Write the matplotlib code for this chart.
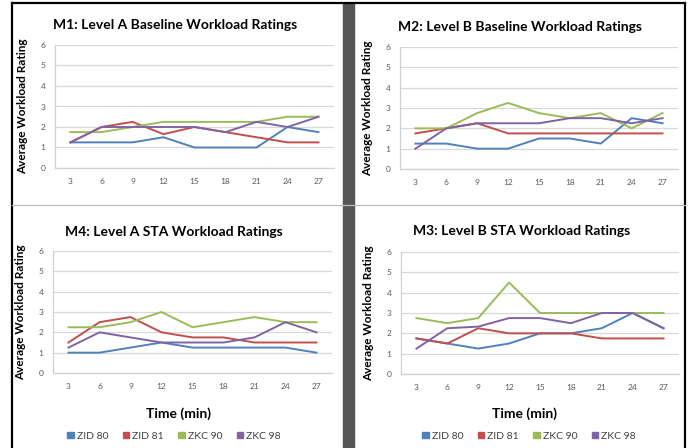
import matplotlib
matplotlib.use("Agg")
import matplotlib.pyplot as plt
from matplotlib.lines import Line2D
from matplotlib.patches import Rectangle, Patch

times = ["3", "6", "9", "12", "15", "18", "21", "24", "27"]
series_names = ["ZID 80", "ZID 81", "ZKC 90", "ZKC 98"]
colors = ["#4F81BD", "#C0504D", "#9BBB59", "#8064A2"]

# M1: Level A Baseline
m1_zid80 = [1.25, 1.25, 1.25, 1.5, 1.0, 1.0, 1.0, 2.0, 1.75]
m1_zid81 = [1.25, 2.0, 2.25, 1.65, 2.0, 1.75, 1.5, 1.25, 1.25]
m1_zkc90 = [1.75, 1.75, 2.0, 2.25, 2.25, 2.25, 2.25, 2.5, 2.5]
m1_zkc98 = [1.25, 2.0, 2.0, 2.0, 2.0, 1.75, 2.25, 2.0, 2.5]

# M2: Level B Baseline
m2_zid80 = [1.25, 1.25, 1.0, 1.0, 1.5, 1.5, 1.25, 2.5, 2.25]
m2_zid81 = [1.75, 2.0, 2.25, 1.75, 1.75, 1.75, 1.75, 1.75, 1.75]
m2_zkc90 = [2.0, 2.0, 2.75, 3.25, 2.75, 2.5, 2.75, 2.0, 2.75]
m2_zkc98 = [1.0, 2.0, 2.25, 2.25, 2.25, 2.5, 2.5, 2.25, 2.5]

# M4: Level A STA
m4_zid80 = [1.0, 1.0, 1.25, 1.5, 1.25, 1.25, 1.25, 1.25, 1.0]
m4_zid81 = [1.5, 2.5, 2.75, 2.0, 1.75, 1.75, 1.5, 1.5, 1.5]
m4_zkc90 = [2.25, 2.25, 2.5, 3.0, 2.25, 2.5, 2.75, 2.5, 2.5]
m4_zkc98 = [1.25, 2.0, 1.75, 1.5, 1.5, 1.5, 1.75, 2.5, 2.0]

# M3: Level B STA
m3_zid80 = [1.75, 1.5, 1.25, 1.5, 2.0, 2.0, 2.25, 3.0, 2.25]
m3_zid81 = [1.75, 1.5, 2.25, 2.0, 2.0, 2.0, 1.75, 1.75, 1.75]
m3_zkc90 = [2.75, 2.5, 2.75, 4.5, 3.0, 3.0, 3.0, 3.0, 3.0]
m3_zkc98 = [1.25, 2.25, 2.33, 2.75, 2.75, 2.5, 3.0, 3.0, 2.25]

W, H = 691, 448
fig = plt.figure(figsize=(W / 100, H / 100), dpi=100)
fig.patch.set_facecolor("white")

FONT = ["Lato", "DejaVu Sans"]
TICK_C = "#595959"


def px_rect(x0, y0, x1, y1):
    return [x0 / W, 1 - y1 / H, (x1 - x0) / W, (y1 - y0) / H]


panels = [
    ("M1: Level A Baseline Workload Ratings", (55, 45, 334, 168), (175, 25),
     [m1_zid80, m1_zid81, m1_zkc90, m1_zkc98], None),
    ("M2: Level B Baseline Workload Ratings", (400, 47, 678, 169), (520, 27),
     [m2_zid80, m2_zid81, m2_zkc90, m2_zkc98], None),
    ("M4: Level A STA Workload Ratings", (53, 251, 332, 373), (174, 232),
     [m4_zid80, m4_zid81, m4_zkc90, m4_zkc98], (178, 174)),
    ("M3: Level B STA Workload Ratings", (401, 252, 679, 374), (522, 231),
     [m3_zid80, m3_zid81, m3_zkc90, m3_zkc98], (524, 529)),
]

for title, (x0, y0, x1, y1), (tx, ty), data, bottom in panels:
    ax = fig.add_axes(px_rect(x0, y0, x1, y1))
    xs = list(range(len(times)))
    for vals, c, name in zip(data, colors, series_names):
        ax.plot(xs, vals, color=c, lw=1.4, label=name, solid_joinstyle="round")
    ax.set_xlim(-0.5, len(times) - 0.5)
    ax.set_ylim(0, 6)
    ax.set_yticks(range(0, 7))
    ax.set_xticks(xs)
    ax.set_xticklabels(times)
    ax.yaxis.grid(True, color="#D9D9D9", lw=0.9)
    ax.set_axisbelow(True)
    for s in ["top", "right"]:
        ax.spines[s].set_visible(False)
    for s in ["left", "bottom"]:
        ax.spines[s].set_color("#D0D0D0")
        ax.spines[s].set_linewidth(0.9)
    ax.tick_params(length=0, labelsize=6, labelcolor=TICK_C, pad=7)
    for lbl in ax.get_xticklabels() + ax.get_yticklabels():
        lbl.set_family(FONT)
    ax.set_ylabel("Average Workload Rating", fontsize=8.5, fontweight="bold",
                  family=FONT, color="black")
    ax.yaxis.set_label_coords(-27 / (x1 - x0), 0.5)
    fig.text(tx / W, 1 - ty / H, title, ha="center", va="center",
             fontsize=10, fontweight="bold", family=FONT, color="black")
    if bottom:
        time_x, leg_x = bottom
        fig.text(time_x / W, 1 - 414 / H, "Time (min)", ha="center", va="center",
                 fontsize=10, fontweight="bold", family=FONT, color="black")
        handles = [Patch(facecolor=c, edgecolor=c) for c in colors]
        fig.legend(handles, series_names, loc="center",
                   bbox_to_anchor=(leg_x / W, 1 - 436 / H), ncol=4, frameon=False,
                   prop={"family": FONT, "size": 7.5}, handlelength=0.6,
                   handleheight=0.6, handletextpad=0.3, columnspacing=1.4,
                   labelcolor="#404040")

# frame elements
fig.add_artist(Line2D([12 / W, 12 / W], [0, 1 - 3 / H], color="black", lw=1.6,
                      transform=fig.transFigure))
fig.add_artist(Line2D([685 / W, 685 / W], [0, 1 - 3 / H], color="black", lw=1.6,
                      transform=fig.transFigure))
fig.add_artist(Line2D([12 / W, 685 / W], [1 - 3 / H, 1 - 3 / H], color="black", lw=1.6,
                      transform=fig.transFigure))
fig.add_artist(Line2D([12 / W, 685 / W], [1 - 205 / H, 1 - 205 / H], color="#BDBDBD",
                      lw=0.9, transform=fig.transFigure))
fig.add_artist(Rectangle((343 / W, 0), 11 / W, 1 - 3 / H, color="#555555",
                         transform=fig.transFigure))

fig.savefig("out.png", dpi=100, facecolor="white")
